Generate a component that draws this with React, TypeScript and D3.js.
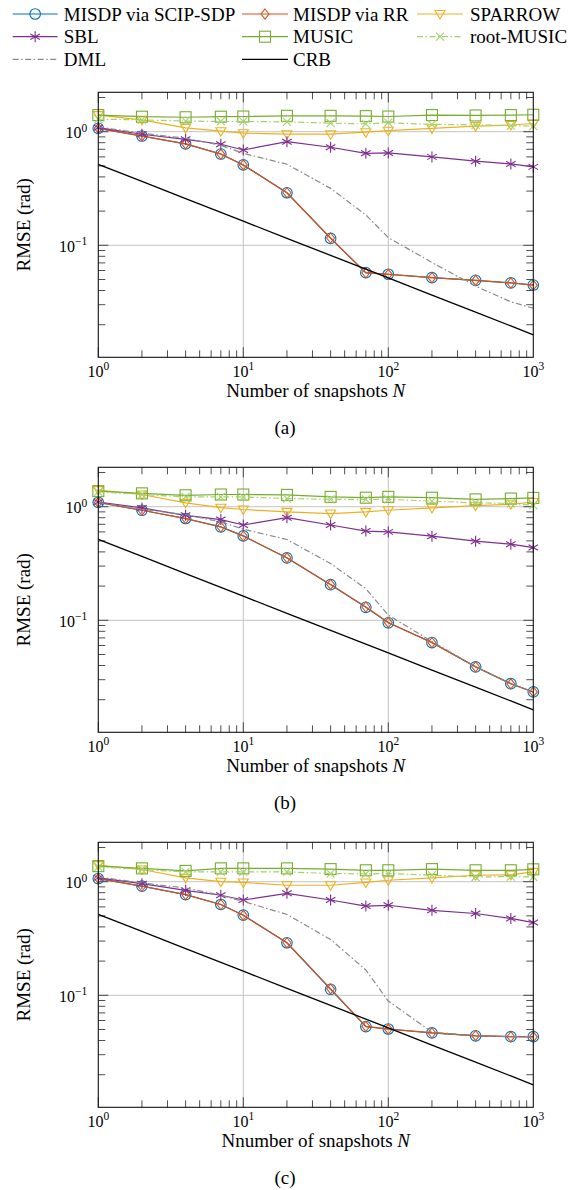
import React, { useEffect, useRef } from 'react'
import * as d3 from 'd3'

// number of snapshots N
const snapshots = [1, 2, 4, 7, 10, 20, 40, 70, 100, 200, 400, 700, 1000]

const crb = [0.516, 0.365, 0.258, 0.195, 0.163, 0.115, 0.0816, 0.0617, 0.0516, 0.0365, 0.0258, 0.0195, 0.0163]

// panel (a)
const sdpA = [1.07, 0.916, 0.78, 0.636, 0.51, 0.29, 0.115, 0.0574, 0.0556, 0.0519, 0.0492, 0.0466, 0.0447]
const rrA = [1.07, 0.915, 0.78, 0.635, 0.51, 0.29, 0.116, 0.0572, 0.0555, 0.0519, 0.0491, 0.0466, 0.0446]
const sparrowA = [1.4, 1.27, 1.08, 1.01, 0.97, 0.95, 0.95, 0.99, 1.02, 1.07, 1.12, 1.145, 1.18]
const sblA = [1.085, 0.95, 0.857, 0.775, 0.69, 0.817, 0.73, 0.645, 0.65, 0.6, 0.55, 0.52, 0.49]
const musicA = [1.4, 1.355, 1.34, 1.355, 1.36, 1.38, 1.38, 1.37, 1.36, 1.4, 1.39, 1.4, 1.41]
const rootA = [1.29, 1.27, 1.24, 1.23, 1.23, 1.22, 1.19, 1.17, 1.2, 1.16, 1.15, 1.13, 1.12]
const dmlA = [1.1, 0.97, 0.875, 0.76, 0.645, 0.517, 0.317, 0.185, 0.117, 0.0705, 0.0437, 0.0318, 0.0279]

// panel (b)
const sdpB = [1.09, 0.93, 0.787, 0.664, 0.553, 0.354, 0.206, 0.13, 0.095, 0.0637, 0.0389, 0.0277, 0.0234]
const rrB = [1.09, 0.93, 0.786, 0.663, 0.552, 0.355, 0.207, 0.131, 0.0955, 0.0636, 0.039, 0.0276, 0.0234]
const sparrowB = [1.4, 1.28, 1.08, 0.98, 0.945, 0.9, 0.87, 0.9, 0.93, 0.975, 1.02, 1.05, 1.1]
const sblB = [1.1, 0.975, 0.84, 0.77, 0.69, 0.8, 0.69, 0.61, 0.6, 0.55, 0.497, 0.468, 0.437]
const musicB = [1.37, 1.31, 1.26, 1.28, 1.28, 1.27, 1.22, 1.2, 1.22, 1.2, 1.16, 1.18, 1.195]
const rootB = [1.35, 1.28, 1.22, 1.22, 1.22, 1.18, 1.16, 1.16, 1.16, 1.12, 1.08, 1.07, 1.03]
const dmlB = [1.09, 0.95, 0.85, 0.735, 0.634, 0.514, 0.316, 0.19, 0.111, 0.065, 0.039, 0.0275, 0.0234]

// panel (c)
const sdpC = [1.065, 0.913, 0.77, 0.63, 0.507, 0.29, 0.113, 0.053, 0.0505, 0.0466, 0.044, 0.0432, 0.0432]
const rrC = [1.065, 0.912, 0.77, 0.63, 0.506, 0.29, 0.114, 0.0532, 0.0504, 0.0466, 0.0441, 0.0432, 0.0431]
const sparrowC = [1.4, 1.28, 1.08, 1.0, 0.985, 0.93, 0.93, 0.985, 1.03, 1.08, 1.14, 1.15, 1.22]
const sblC = [1.08, 0.96, 0.84, 0.76, 0.69, 0.79, 0.69, 0.61, 0.62, 0.56, 0.525, 0.475, 0.437]
const musicC = [1.37, 1.31, 1.245, 1.31, 1.31, 1.31, 1.29, 1.26, 1.26, 1.29, 1.26, 1.26, 1.285]
const rootC = [1.35, 1.28, 1.22, 1.22, 1.22, 1.22, 1.18, 1.17, 1.18, 1.14, 1.1, 1.11, 1.1]
const dmlC = [1.1, 0.975, 0.88, 0.76, 0.67, 0.515, 0.31, 0.167, 0.089, 0.0475, 0.044, 0.0433, 0.0432]

const seriesNames = ['MISDP via SCIP-SDP', 'MISDP via RR', 'SPARROW', 'SBL', 'MUSIC', 'root-MUSIC', 'DML', 'CRB']
const seriesColors = ['#0072bd', '#d95319', '#edb120', '#7e2f8e', '#77ac30', '#a3d26c', '#8a8a8a', '#000000']
const seriesMarks = ['circle', 'diamond', 'triangle', 'asterisk', 'square', 'cross', 'none', 'none']
const seriesDash = [null, null, null, null, null, '6,2.5,1.5,2.5', '6,2.5,1.5,2.5', null]

const panels = [
  { caption: '(a)', xLabel: 'Number of snapshots ', series: [sdpA, rrA, sparrowA, sblA, musicA, rootA, dmlA, crb] },
  { caption: '(b)', xLabel: 'Number of snapshots ', series: [sdpB, rrB, sparrowB, sblB, musicB, rootB, dmlB, crb] },
  { caption: '(c)', xLabel: 'Nnumber of snapshots ', series: [sdpC, rrC, sparrowC, sblC, musicC, rootC, dmlC, crb] },
]

const W = 569
const H = 1190
const FONT = "'Liberation Serif', 'Times New Roman', serif"

const drawMark = (g, type, cx, cy, color) => {
  const s = { stroke: color, 'stroke-width': 1.1, fill: 'none' }
  let el = null
  if (type === 'circle') {
    el = g.append('circle').attr('cx', cx).attr('cy', cy).attr('r', 5.3)
  } else if (type === 'diamond') {
    el = g.append('path').attr('d', `M${cx},${cy - 5}L${cx + 4},${cy}L${cx},${cy + 5}L${cx - 4},${cy}Z`)
  } else if (type === 'triangle') {
    el = g.append('path').attr('d', `M${cx - 5},${cy - 3.5}L${cx + 5},${cy - 3.5}L${cx},${cy + 5}Z`)
  } else if (type === 'square') {
    el = g.append('rect').attr('x', cx - 5.5).attr('y', cy - 5.5).attr('width', 11).attr('height', 11)
  } else if (type === 'cross') {
    const r = 4
    el = g.append('path').attr('d', `M${cx - r},${cy - r}L${cx + r},${cy + r}M${cx - r},${cy + r}L${cx + r},${cy - r}`)
  } else if (type === 'asterisk') {
    const r = 5.5
    let d = ''
    ;[90, 30, 150].forEach((a) => {
      const dx = r * Math.cos((a * Math.PI) / 180)
      const dy = r * Math.sin((a * Math.PI) / 180)
      d += `M${cx - dx},${cy - dy}L${cx + dx},${cy + dy}`
    })
    el = g.append('path').attr('d', d)
  }
  if (el) Object.entries(s).forEach(([k, v]) => el.attr(k, v))
}

const Chart = () => {
  const ref = useRef(null)

  useEffect(() => {
    document.body.style.margin = '0'
    const svg = d3.select(ref.current)
    svg.selectAll('*').remove()

    // legend
    const legCols = [
      { x0: 12.7, x1: 57.6, tx: 63.8 },
      { x0: 242, x1: 288, tx: 293 },
      { x0: 417, x1: 463, tx: 470 },
    ]
    const legRows = [14, 36.7, 59.3]
    const leg = svg.append('g')
    seriesNames.forEach((name, i) => {
      const c = legCols[i % 3]
      const yy = legRows[Math.floor(i / 3)]
      const line = leg
        .append('line')
        .attr('x1', c.x0)
        .attr('x2', c.x1)
        .attr('y1', yy)
        .attr('y2', yy)
        .attr('stroke', seriesColors[i])
        .attr('stroke-width', 1.2)
      if (seriesDash[i]) line.attr('stroke-dasharray', seriesDash[i])
      drawMark(leg, seriesMarks[i], (c.x0 + c.x1) / 2, yy, seriesColors[i])
      leg
        .append('text')
        .attr('x', c.tx)
        .attr('y', yy + 6.5)
        .style('font-family', FONT)
        .style('font-size', '19px')
        .text(name)
    })

    const left = 98.3
    const right = 533.3
    const plotH = 265
    const yMin = 0.01033
    const yMax = 2.222

    panels.forEach((p, pi) => {
      const top = 92.3 + pi * 375
      const bottom = top + plotH
      const x = d3.scaleLog().domain([1, 1000]).range([left, right])
      const y = d3.scaleLog().domain([yMin, yMax]).range([bottom, top])
      const g = svg.append('g')

      // grid
      ;[10, 100].forEach((v) => {
        g.append('line')
          .attr('x1', x(v)).attr('x2', x(v))
          .attr('y1', top).attr('y2', bottom)
          .attr('stroke', '#c4c4c4').attr('stroke-width', 1)
      })
      ;[0.1, 1].forEach((v) => {
        g.append('line')
          .attr('x1', left).attr('x2', right)
          .attr('y1', y(v)).attr('y2', y(v))
          .attr('stroke', '#c4c4c4').attr('stroke-width', 1)
      })

      // ticks
      const tickG = g.append('g').attr('stroke', '#222').attr('stroke-width', 0.8)
      for (let k = 0; k < 3; k++) {
        for (let m = 1; m <= 9; m++) {
          const v = m * Math.pow(10, k)
          const len = m === 1 ? 10 : 7
          const xx = x(v)
          tickG.append('line').attr('x1', xx).attr('x2', xx).attr('y1', bottom).attr('y2', bottom - len)
          tickG.append('line').attr('x1', xx).attr('x2', xx).attr('y1', top).attr('y2', top + len)
        }
      }
      for (let k = -2; k <= 0; k++) {
        for (let m = 1; m <= 9; m++) {
          const v = m * Math.pow(10, k)
          if (v < yMin || v > yMax) continue
          const len = m === 1 ? 10 : 7
          const yy = y(v)
          tickG.append('line').attr('x1', left).attr('x2', left + len).attr('y1', yy).attr('y2', yy)
          tickG.append('line').attr('x1', right).attr('x2', right - len).attr('y1', yy).attr('y2', yy)
        }
      }

      // tick labels
      ;[0, 1, 2, 3].forEach((e) => {
        const t = g
          .append('text')
          .attr('x', x(Math.pow(10, e)))
          .attr('y', top + 284.4)
          .attr('text-anchor', 'middle')
          .style('font-family', FONT)
          .style('font-size', '16px')
        t.append('tspan').text('10')
        t.append('tspan').attr('dy', -6.5).style('font-size', '11.5px').text(String(e))
      })
      ;[0, -1].forEach((e) => {
        const t = g
          .append('text')
          .attr('x', 87.3)
          .attr('y', y(Math.pow(10, e)) + 6.6)
          .attr('text-anchor', 'end')
          .style('font-family', FONT)
          .style('font-size', '16px')
        t.append('tspan').text('10')
        t.append('tspan').attr('dy', -6.5).style('font-size', '11.5px').text(e < 0 ? '\u2212' + Math.abs(e) : String(e))
      })

      // data
      const line = d3
        .line()
        .x((d) => x(d[0]))
        .y((d) => y(d[1]))
      p.series.forEach((vals, si) => {
        const pts = snapshots.map((n, j) => [n, vals[j]])
        const path = g
          .append('path')
          .datum(pts)
          .attr('d', line)
          .attr('fill', 'none')
          .attr('stroke', seriesColors[si])
          .attr('stroke-width', si === 7 ? 1.3 : 1.2)
        if (seriesDash[si]) path.attr('stroke-dasharray', seriesDash[si])
        if (seriesMarks[si] !== 'none') {
          pts.forEach((d) => drawMark(g, seriesMarks[si], x(d[0]), y(d[1]), seriesColors[si]))
        }
      })

      // frame
      g.append('rect')
        .attr('x', left).attr('y', top)
        .attr('width', right - left).attr('height', plotH)
        .attr('fill', 'none').attr('stroke', '#111').attr('stroke-width', 1.1)

      // labels
      const xl = g
        .append('text')
        .attr('x', (left + right) / 2)
        .attr('y', top + 304.4)
        .attr('text-anchor', 'middle')
        .style('font-family', FONT)
        .style('font-size', '19px')
      xl.append('tspan').text(p.xLabel)
      xl.append('tspan').style('font-style', 'italic').text('N')

      g.append('text')
        .attr('transform', `translate(29.5,${top + 132.5}) rotate(-90)`)
        .attr('text-anchor', 'middle')
        .style('font-family', FONT)
        .style('font-size', '19px')
        .text('RMSE (rad)')

      g.append('text')
        .attr('x', 285)
        .attr('y', top + 341.7)
        .attr('text-anchor', 'middle')
        .style('font-family', FONT)
        .style('font-size', '19px')
        .text(p.caption)
    })
  }, [])

  return <svg width={W} height={H} ref={ref} style={{ display: 'block', background: '#fff' }} />
}

export default function App() {
  return <Chart />
}
